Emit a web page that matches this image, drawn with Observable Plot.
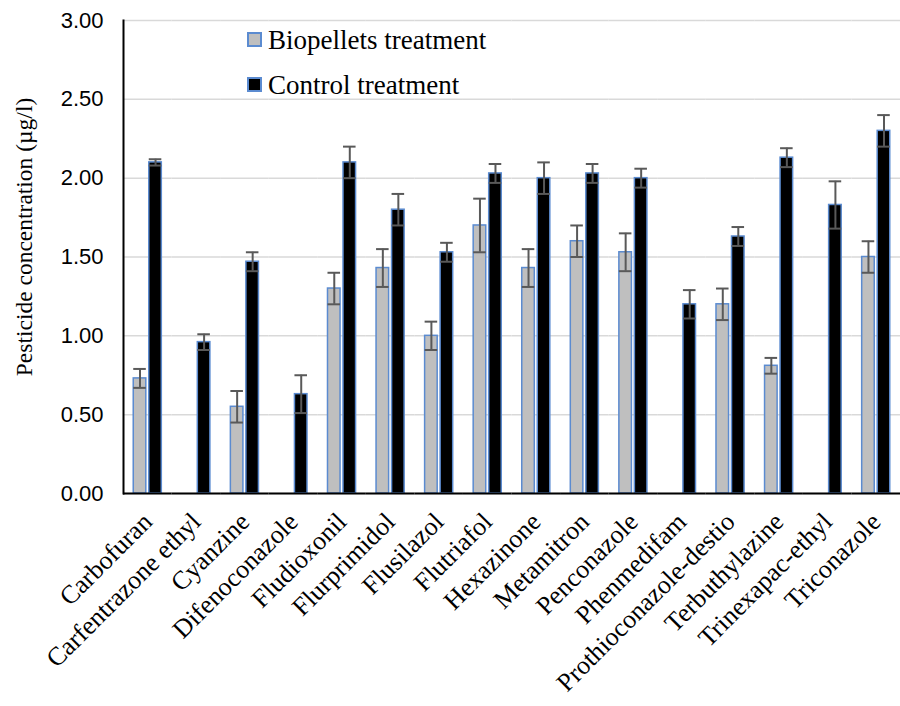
<!DOCTYPE html>
<html>
<head>
<meta charset="utf-8">
<script src="https://cdn.jsdelivr.net/npm/d3@7"></script>
<script src="https://cdn.jsdelivr.net/npm/@observablehq/plot@0.6"></script>
<style>
  body { margin: 0; background: #fff; }
  #wrap { position: relative; width: 900px; height: 706px; }
</style>
</head>
<body>
<div id="wrap"></div>
<script>
const categories = ["Carbofuran", "Carfentrazone ethyl", "Cyanzine", "Difenoconazole", "Fludioxonil",
  "Flurprimidol", "Flusilazol", "Flutriafol", "Hexazinone", "Metamitron", "Penconazole", "Phenmedifam",
  "Prothioconazole-destio", "Terbuthylazine", "Trinexapac-ethyl", "Triconazole"];
const seriesNames = ["Biopellets treatment", "Control treatment"];
const biopellets    = [0.73, 0,    0.55, 0,    1.30, 1.43, 1.00, 1.70, 1.43, 1.60, 1.53, 0,    1.20, 0.81, 0,    1.50];
const biopelletsErr = [0.06, 0,    0.10, 0,    0.10, 0.12, 0.09, 0.17, 0.12, 0.10, 0.12, 0,    0.10, 0.05, 0,    0.10];
const control       = [2.10, 0.96, 1.47, 0.63, 2.10, 1.80, 1.53, 2.03, 2.00, 2.03, 2.00, 1.20, 1.63, 2.13, 1.83, 2.30];
const controlErr    = [0.02, 0.05, 0.06, 0.12, 0.10, 0.10, 0.06, 0.06, 0.10, 0.06, 0.06, 0.09, 0.06, 0.06, 0.15, 0.10];
const yTicks = [0, 0.5, 1, 1.5, 2, 2.5, 3];
const yLabel = "Pesticide concentration (µg/l)";
const seriesColors = ["#bfbfbf", "#000000"];

const rows = [];
categories.forEach((c, i) => {
  rows.push({category: c, series: seriesNames[0], value: biopellets[i], err: biopelletsErr[i]});
  rows.push({category: c, series: seriesNames[1], value: control[i], err: controlErr[i]});
});
const shown = rows.filter(d => d.value > 0);

const serif = "Liberation Serif, Times New Roman, serif";
const chart = Plot.plot({
  width: 900,
  height: 706,
  marginLeft: 123,
  marginRight: 0,
  marginTop: 20,
  marginBottom: 213,
  style: {background: "white", overflow: "visible"},
  fx: {domain: categories, padding: 0, round: false},
  x: {domain: seriesNames, paddingInner: 0.19, paddingOuter: 0.66, round: false, axis: null},
  y: {domain: [0, 3]},
  color: {domain: seriesNames, range: seriesColors},
  marks: [
    Plot.gridY(yTicks, {stroke: "#d9d9d9", strokeOpacity: 1, strokeWidth: 1.5}),
    Plot.barY(shown, {fx: "category", x: "series", y: "value", fill: "series", stroke: "#5b8bd0", strokeWidth: 1.5}),
    Plot.ruleX(shown, {fx: "category", x: "series", y1: d => d.value - d.err, y2: d => d.value + d.err, stroke: "#595959", strokeWidth: 2}),
    Plot.tickY(shown, {fx: "category", x: "series", y: d => d.value - d.err, stroke: "#595959", strokeWidth: 2}),
    Plot.tickY(shown, {fx: "category", x: "series", y: d => d.value + d.err, stroke: "#595959", strokeWidth: 2}),
    Plot.ruleY([0], {stroke: "black", strokeWidth: 2}),
    Plot.frame({anchor: "left", facetAnchor: "left", stroke: "black", strokeWidth: 2}),
    Plot.axisY(yTicks, {tickSize: 0, tickPadding: 20, tickFormat: d3.format(".2f"), fontSize: 22,
      fontFamily: "Liberation Sans, Arial, sans-serif", fill: "#000", label: null}),
    Plot.axisFx({anchor: "bottom", tickRotate: -45, tickSize: 0, tickPadding: 24, dx: 0, fontSize: 26,
      fontFamily: serif, fill: "#000", label: null}),
    Plot.text([yLabel], {frameAnchor: "left", facetAnchor: "left", textAnchor: "middle", rotate: -90,
      dx: -99, dy: -20, fontSize: 23.5, fontFamily: serif, fill: "#000"})
  ]
});
const wrap = document.getElementById("wrap");
wrap.appendChild(chart);

// Legend (inside the SVG, top of the plot area)
const legendY = [40, 85];
const lg = d3.select(chart).append("g").attr("class", "legend").attr("text-anchor", "start");
seriesNames.forEach((name, i) => {
  lg.append("rect")
    .attr("x", 248).attr("y", legendY[i] - 7).attr("width", 13).attr("height", 13)
    .attr("fill", seriesColors[i]).attr("stroke", "#5b8bd0").attr("stroke-width", 2);
  lg.append("text")
    .attr("x", 268).attr("y", legendY[i]).attr("dy", "0.35em")
    .attr("text-anchor", "start")
    .attr("font-family", serif).attr("font-size", 27).attr("fill", "#000")
    .text(name);
});
</script>
</body>
</html>
